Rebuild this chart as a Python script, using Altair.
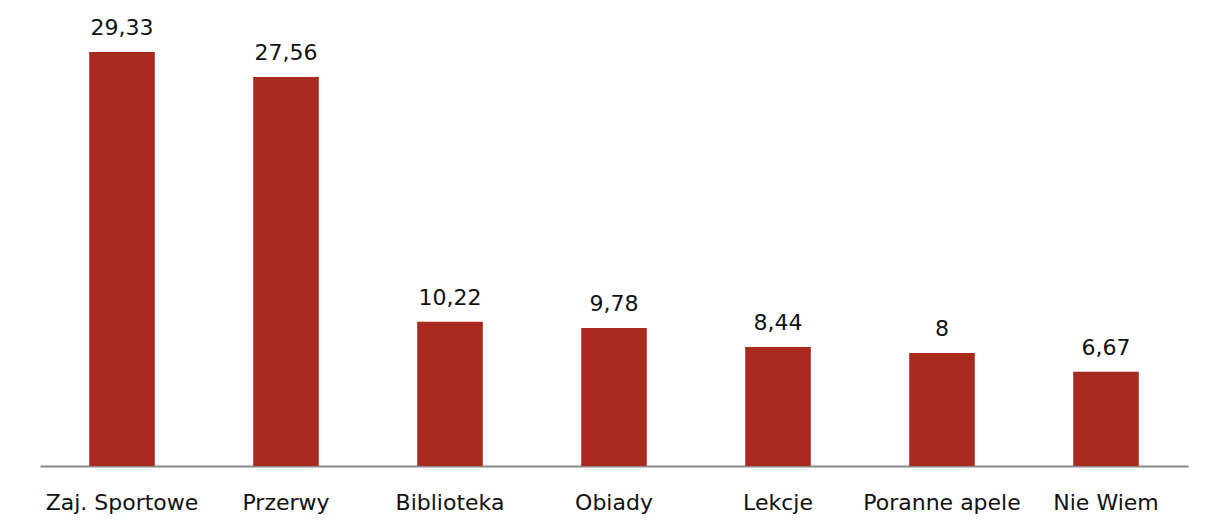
import altair as alt
import pandas as pd

categories = ["Zaj. Sportowe", "Przerwy", "Biblioteka", "Obiady", "Lekcje", "Poranne apele", "Nie Wiem"]
values = [29.33, 27.56, 10.22, 9.78, 8.44, 8, 6.67]
labels = ["29,33", "27,56", "10,22", "9,78", "8,44", "8", "6,67"]

df = pd.DataFrame({"cat": categories, "val": values, "lab": labels})

FONT = "DejaVu Sans"

x = alt.X("cat:N", sort=categories, title=None,
          scale=alt.Scale(paddingInner=0.6, paddingOuter=0.3),
          axis=alt.Axis(labelAngle=0, ticks=False, domainColor="#8a8a8a", domainWidth=2,
                        labelFont=FONT, labelFontSize=22, labelColor="#111111",
                        labelBaseline="alphabetic", labelPadding=43, grid=False))
y = alt.Y("val:Q", scale=alt.Scale(domain=[0, 32.45], nice=False), axis=None)

bars = alt.Chart(df).mark_bar(color="#a82a1e").encode(x=x, y=y)
text = alt.Chart(df).mark_text(font=FONT, fontSize=22, color="#111111", baseline="alphabetic", dy=-17).encode(
    x=alt.X("cat:N", sort=categories), y="val:Q", text="lab:N")

chart = (bars + text).properties(
    width=1148, height=458,
    background="white",
    padding={"left": 32, "top": 0, "right": 8, "bottom": 5},
).configure_view(strokeWidth=0, stroke=None)

chart.save("out.html", embed_options={"renderer": "svg", "actions": False})
